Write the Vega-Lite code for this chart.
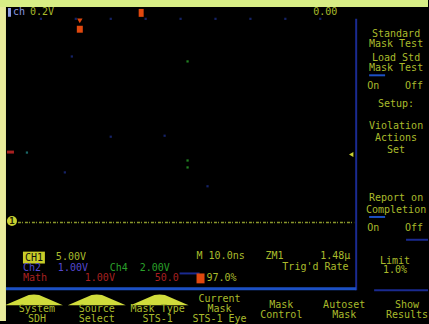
{
  "$schema": "https://vega.github.io/schema/vega-lite/v6.json",
  "width": 429,
  "height": 324,
  "padding": 0,
  "autosize": {"type": "fit", "contains": "padding"},
  "background": "#000000",
  "config": {"view": {"stroke": null}},
  "datasets": {
    "rects": [
      {"x0": 0, "x1": 6, "y0": 0, "y1": 324, "kind": "frameL"},
      {"x0": 0, "x1": 429, "y0": 0, "y1": 7, "kind": "frameT"},
      {"x0": 6, "x1": 429, "y0": 7, "y1": 324, "kind": "screen"},
      {"x0": 356, "x1": 358, "y0": 19, "y1": 293, "kind": "blue"},
      {"x0": 6, "x1": 357, "y0": 290, "y1": 293, "kind": "bright"},
      {"x0": 375, "x1": 429, "y0": 292, "y1": 294, "kind": "blue"},
      {"x0": 407, "x1": 429, "y0": 241, "y1": 243, "kind": "blue"},
      {"x0": 370, "x1": 386, "y0": 75, "y1": 77, "kind": "bright"},
      {"x0": 370, "x1": 386, "y0": 218, "y1": 220, "kind": "bright"},
      {"x0": 180, "x1": 200, "y0": 275, "y1": 277, "kind": "blue"},
      {"x0": 8, "x1": 11, "y0": 8, "y1": 17, "kind": "ltblue"},
      {"x0": 139, "x1": 144, "y0": 9, "y1": 17, "kind": "orange"},
      {"x0": 77, "x1": 83, "y0": 26, "y1": 33, "kind": "orange"},
      {"x0": 23, "x1": 45, "y0": 254, "y1": 266, "kind": "ylwfill"},
      {"x0": 197, "x1": 205, "y0": 276, "y1": 286, "kind": "orange"},
      {"x0": 7, "x1": 14, "y0": 152, "y1": 155, "kind": "red"}
    ],
    "dots": [
      {"x": 41, "y": 19, "kind": "grid"}, {"x": 76, "y": 19, "kind": "grid"},
      {"x": 111, "y": 19, "kind": "grid"}, {"x": 146, "y": 19, "kind": "grid"},
      {"x": 181, "y": 19, "kind": "grid"}, {"x": 216, "y": 19, "kind": "grid"},
      {"x": 251, "y": 19, "kind": "grid"}, {"x": 286, "y": 19, "kind": "grid"},
      {"x": 321, "y": 19, "kind": "grid"}, {"x": 72, "y": 57, "kind": "grid"},
      {"x": 188, "y": 62, "kind": "green"}, {"x": 165, "y": 137, "kind": "grid"},
      {"x": 111, "y": 138, "kind": "grid"}, {"x": 188, "y": 162, "kind": "green"},
      {"x": 188, "y": 169, "kind": "green"}, {"x": 65, "y": 174, "kind": "grid"},
      {"x": 208, "y": 188, "kind": "grid"}, {"x": 27, "y": 154, "kind": "teal"}
    ],
    "trace": [
      {"x": 18, "y": 224.5}, {"x": 120, "y": 224.5}, {"x": 240, "y": 224.5}, {"x": 355, "y": 224.5}
    ],
    "tabs": [
      {"x": 34, "y": 302.5}, {"x": 97, "y": 302.5}, {"x": 160, "y": 302.5}
    ],
    "tleft": [
      {"x": 13, "y": 12, "t": "ch", "kind": "ltblue"},
      {"x": 30, "y": 12, "t": "0.2V", "kind": "ylw"},
      {"x": 56, "y": 259, "t": "5.00V", "kind": "ylw"},
      {"x": 23, "y": 270, "t": "Ch2", "kind": "purple"},
      {"x": 58, "y": 270, "t": "1.00V", "kind": "purple"},
      {"x": 110, "y": 270, "t": "Ch4", "kind": "green"},
      {"x": 140, "y": 270, "t": "2.00V", "kind": "green"},
      {"x": 23, "y": 281, "t": "Math", "kind": "red"},
      {"x": 85, "y": 281, "t": "1.00V", "kind": "red"},
      {"x": 155, "y": 281, "t": "50.0", "kind": "red"},
      {"x": 207, "y": 281, "t": "97.0%", "kind": "ylw"},
      {"x": 197, "y": 258, "t": "M 10.0ns", "kind": "ylw"},
      {"x": 266, "y": 258, "t": "ZM1", "kind": "ylw"},
      {"x": 321, "y": 258, "t": "1.48µ", "kind": "ylw"},
      {"x": 283, "y": 269, "t": "Trig'd Rate", "kind": "ylw"},
      {"x": 368, "y": 87, "t": "On", "kind": "ylw"},
      {"x": 406, "y": 87, "t": "Off", "kind": "ylw"},
      {"x": 368, "y": 230, "t": "On", "kind": "ylw"},
      {"x": 406, "y": 230, "t": "Off", "kind": "ylw"}
    ],
    "tcenter": [
      {"x": 326, "y": 12, "t": "0.00", "kind": "ylw"},
      {"x": 397, "y": 34, "t": "Standard", "kind": "ylw"},
      {"x": 397, "y": 44, "t": "Mask Test", "kind": "ylw"},
      {"x": 397, "y": 59, "t": "Load Std", "kind": "ylw"},
      {"x": 397, "y": 69, "t": "Mask Test", "kind": "ylw"},
      {"x": 397, "y": 105, "t": "Setup:", "kind": "ylw"},
      {"x": 397, "y": 127, "t": "Violation", "kind": "ylw"},
      {"x": 397, "y": 139, "t": "Actions", "kind": "ylw"},
      {"x": 397, "y": 151, "t": "Set", "kind": "ylw"},
      {"x": 397, "y": 200, "t": "Report on", "kind": "ylw"},
      {"x": 397, "y": 212, "t": "Completion", "kind": "ylw"},
      {"x": 396, "y": 263, "t": "Limit", "kind": "ylw"},
      {"x": 396, "y": 273, "t": "1.0%", "kind": "ylw"},
      {"x": 34, "y": 260, "t": "CH1", "kind": "dark"},
      {"x": 37, "y": 312, "t": "System", "kind": "ylw"},
      {"x": 37, "y": 322, "t": "SDH", "kind": "ylw"},
      {"x": 97, "y": 312, "t": "Source", "kind": "ylw"},
      {"x": 97, "y": 322, "t": "Select", "kind": "ylw"},
      {"x": 158, "y": 312, "t": "Mask Type", "kind": "ylw"},
      {"x": 158, "y": 322, "t": "STS-1", "kind": "ylw"},
      {"x": 220, "y": 302, "t": "Current", "kind": "ylw"},
      {"x": 220, "y": 312, "t": "Mask", "kind": "ylw"},
      {"x": 220, "y": 322, "t": "STS-1 Eye", "kind": "ylw"},
      {"x": 282, "y": 308, "t": "Mask", "kind": "ylw"},
      {"x": 282, "y": 318, "t": "Control", "kind": "ylw"},
      {"x": 345, "y": 308, "t": "Autoset", "kind": "ylw"},
      {"x": 345, "y": 318, "t": "Mask", "kind": "ylw"},
      {"x": 408, "y": 308, "t": "Show", "kind": "ylw"},
      {"x": 408, "y": 318, "t": "Results", "kind": "ylw"}
    ],
    "markers": [
      {"x": 12, "y": 223, "kind": "tab"}
    ],
    "arrows": [
      {"x": 80, "y": 21, "kind": "orange"}
    ],
    "trig": [
      {"x": 352, "y": 156, "kind": "ylw"}
    ]
  },
  "layer": [
    {
      "data": {"name": "rects"},
      "mark": {"type": "rect"},
      "encoding": {
        "x": {"field": "x0", "type": "quantitative", "scale": {"domain": [0, 429], "nice": false, "zero": false}, "axis": null},
        "x2": {"field": "x1"},
        "y": {"field": "y0", "type": "quantitative", "scale": {"domain": [0, 324], "nice": false, "zero": false, "reverse": true}, "axis": null},
        "y2": {"field": "y1"},
        "color": {"field": "kind", "type": "nominal", "legend": null,
          "scale": {"domain": ["frameL","frameT","screen","grid","blue","bright","ylw","ylwfill","ltblue","green","red","orange","trace","dark","purple","tab","teal"],
                    "range": ["#e9ec9c","#d8ee86","#000000","#1a2a80","#1a2a90","#1c50c4","#aabb2c","#c8cc28","#8a98e0","#2aa02a","#a82020","#e0480e","#9aa830","#101010","#5548d0","#d0dc3c","#208080"]}}
      }
    },
    {
      "data": {"name": "dots"},
      "mark": {"type": "point", "filled": true, "size": 5, "shape": "square", "opacity": 0.8},
      "encoding": {
        "x": {"field": "x", "type": "quantitative"},
        "y": {"field": "y", "type": "quantitative"},
        "color": {"field": "kind", "type": "nominal", "legend": null}
      }
    },
    {
      "data": {"name": "trace"},
      "mark": {"type": "line", "color": "#9aa830", "strokeWidth": 1.5, "strokeDash": [3, 1, 1, 2], "opacity": 0.9},
      "encoding": {
        "x": {"field": "x", "type": "quantitative"},
        "y": {"field": "y", "type": "quantitative"}
      }
    },
    {
      "data": {"name": "tabs"},
      "mark": {"type": "point", "filled": true, "opacity": 1, "color": "#d0dc3c", "size": 3364, "shape": "M-1,0.19 L-0.18,-0.16 Q0,-0.2 0.18,-0.16 L1,0.19 Z"},
      "encoding": {
        "x": {"field": "x", "type": "quantitative"},
        "y": {"field": "y", "type": "quantitative"}
      }
    },
    {
      "data": {"name": "markers"},
      "mark": {"type": "point", "filled": true, "opacity": 1, "color": "#c8d030", "size": 100, "shape": "circle"},
      "encoding": {
        "x": {"field": "x", "type": "quantitative"},
        "y": {"field": "y", "type": "quantitative"}
      }
    },
    {
      "data": {"name": "markers"},
      "mark": {"type": "text", "text": "1", "color": "#202000", "font": "DejaVu Sans Mono", "fontSize": 9, "fontWeight": "bold", "baseline": "middle"},
      "encoding": {
        "x": {"field": "x", "type": "quantitative"},
        "y": {"field": "y", "type": "quantitative"}
      }
    },
    {
      "data": {"name": "arrows"},
      "mark": {"type": "point", "filled": true, "opacity": 1, "color": "#e0480e", "size": 30, "shape": "triangle-down"},
      "encoding": {
        "x": {"field": "x", "type": "quantitative"},
        "y": {"field": "y", "type": "quantitative"}
      }
    },
    {
      "data": {"name": "trig"},
      "mark": {"type": "point", "filled": true, "opacity": 1, "color": "#c8d030", "size": 25, "shape": "triangle-left"},
      "encoding": {
        "x": {"field": "x", "type": "quantitative"},
        "y": {"field": "y", "type": "quantitative"}
      }
    },
    {
      "data": {"name": "tleft"},
      "mark": {"type": "text", "align": "left", "baseline": "middle", "font": "DejaVu Sans Mono", "fontSize": 10},
      "encoding": {
        "x": {"field": "x", "type": "quantitative"},
        "y": {"field": "y", "type": "quantitative"},
        "text": {"field": "t"},
        "color": {"field": "kind", "type": "nominal", "legend": null}
      }
    },
    {
      "data": {"name": "tcenter"},
      "mark": {"type": "text", "align": "center", "baseline": "middle", "font": "DejaVu Sans Mono", "fontSize": 10},
      "encoding": {
        "x": {"field": "x", "type": "quantitative"},
        "y": {"field": "y", "type": "quantitative"},
        "text": {"field": "t"},
        "color": {"field": "kind", "type": "nominal", "legend": null}
      }
    }
  ]
}
